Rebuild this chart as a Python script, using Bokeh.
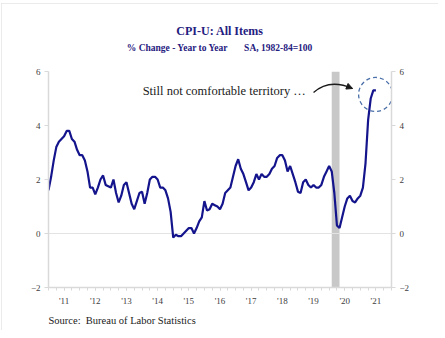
from bokeh.plotting import figure
from bokeh.models import (LinearAxis, FixedTicker, Label, BoxAnnotation, Span, Title,
                          Arrow, NormalHead, ColumnDataSource, Range1d)
from bokeh.embed import file_html
from bokeh.resources import INLINE

# ---- data: CPI-U, % change year to year (monthly, Jan 2011 .. Jul 2021) ----
start_year = 2011
cpi_2011 = [1.6, 2.1, 2.7, 3.2, 3.4, 3.5, 3.6, 3.8, 3.8, 3.5, 3.4, 3.1]
cpi_2012 = [2.9, 2.9, 2.7, 2.3, 1.7, 1.7, 1.45, 1.7, 2.0, 2.15, 1.8, 1.75]
cpi_2013 = [1.7, 2.0, 1.5, 1.15, 1.4, 1.8, 1.9, 1.5, 1.1, 0.9, 1.2, 1.5]
cpi_2014 = [1.55, 1.1, 1.5, 2.0, 2.1, 2.1, 2.0, 1.7, 1.7, 1.6, 1.3, 0.8]
cpi_2015 = [-0.15, -0.05, -0.1, -0.1, 0.0, 0.1, 0.2, 0.2, 0.0, 0.2, 0.45, 0.6]
cpi_2016 = [1.2, 0.85, 0.9, 1.1, 1.05, 1.0, 0.9, 1.1, 1.5, 1.6, 1.7, 2.1]
cpi_2017 = [2.5, 2.75, 2.4, 2.2, 1.9, 1.6, 1.7, 1.9, 2.2, 2.0, 2.2, 2.1]
cpi_2018 = [2.1, 2.2, 2.4, 2.5, 2.8, 2.9, 2.9, 2.7, 2.3, 2.5, 2.2, 1.9]
cpi_2019 = [1.55, 1.5, 1.9, 2.0, 1.8, 1.7, 1.8, 1.7, 1.7, 1.8, 2.1, 2.3]
cpi_2020 = [2.5, 2.3, 1.5, 0.3, 0.2, 0.6, 1.0, 1.3, 1.4, 1.2, 1.15, 1.3]
cpi_2021 = [1.4, 1.7, 2.6, 4.2, 5.0, 5.3, 5.3]

recession = (2020 + 1 / 12, 2020 + 4 / 12)   # Feb - Apr 2020
y_ticks = [-2, 0, 2, 4, 6]
year_labels = ["'11", "'12", "'13", "'14", "'15", "'16", "'17", "'18", "'19", "'20", "'21"]

title_text = "CPI-U: All Items"
subtitle_text = "% Change - Year to Year" + "\u00a0" * 7 + "SA, 1982-84=100"
note_text = "Still not comfortable territory \u2026"
source_text = "Source:\u00a0\u00a0Bureau of Labor Statistics"

cpi = (cpi_2011 + cpi_2012 + cpi_2013 + cpi_2014 + cpi_2015 + cpi_2016 +
       cpi_2017 + cpi_2018 + cpi_2019 + cpi_2020 + cpi_2021)
xs = [start_year + i / 12 for i in range(len(cpi))]
src = ColumnDataSource(dict(x=xs, y=cpi))

NAVY = "#14148c"
TITLE_C = "#1f2080"
AX_C = "#d9d9d9"
SERIF = "Liberation Serif"

p = figure(width=437, height=327, output_backend="svg", toolbar_location=None,
           x_range=Range1d(2011, 2022), y_range=Range1d(-2, 6),
           min_border_left=47, min_border_right=47, min_border_top=68,
           min_border_bottom=43, title=None)
p.margin = (3, 0, 0, 1)
p.styles = {"outline": "2px solid #e4e4e4", "outline-offset": "-2px"}
p.outline_line_color = None
p.background_fill_color = "white"
p.border_fill_color = "white"
p.xgrid.visible = False
p.ygrid.visible = False

# recession bar
p.add_layout(BoxAnnotation(left=recession[0], right=recession[1], bottom=-2, top=6,
                           fill_color="#c8c8c8", fill_alpha=1.0, line_color=None,
                           level="underlay"))
p.add_layout(Span(location=0, dimension="width", line_color="#e3e3e3", line_width=1,
                  level="underlay"))

p.line("x", "y", source=src, line_color=NAVY, line_width=2.2)

# axes
x_ax = p.xaxis[0]
x_ax.ticker = FixedTicker(ticks=[start_year + k + 0.5 for k in range(len(year_labels))],
                          minor_ticks=[start_year + q / 4 for q in range(0, 45)])
x_ax.major_label_overrides = {start_year + k + 0.5: lab for k, lab in enumerate(year_labels)}
x_ax.major_tick_out = 3
x_ax.major_tick_in = 0
x_ax.minor_tick_out = 3
x_ax.minor_tick_in = 0

y_ax = p.yaxis[0]
y_ax.ticker = FixedTicker(ticks=y_ticks)
r_ax = LinearAxis(ticker=FixedTicker(ticks=y_ticks))
p.add_layout(r_ax, "right")

for ax in (x_ax, y_ax, r_ax):
    ax.axis_line_color = AX_C
    ax.axis_line_width = 1.5
    ax.major_tick_line_color = AX_C
    ax.minor_tick_line_color = AX_C
    ax.major_label_text_font = SERIF
    ax.major_label_text_font_size = "9px"
    ax.major_label_text_color = "#404040"
    ax.major_label_standoff = 4
for ax in (y_ax, r_ax):
    ax.major_tick_out = 4
    ax.major_tick_in = 0
    ax.minor_tick_out = 0
    ax.minor_tick_in = 0
x_ax.major_label_standoff = 5

# titles above: a blank spacer next to the frame, then subtitle, then title
p.add_layout(Title(text="\u00a0", text_font=SERIF, text_font_size="1px",
                   text_color="white", standoff=14), "above")
p.add_layout(Title(text=subtitle_text, align="center", text_font=SERIF,
                   text_font_style="bold", text_font_size="9.5px", text_color=TITLE_C,
                   standoff=3), "above")
p.add_layout(Title(text=title_text, align="center", text_font=SERIF,
                   text_font_style="bold", text_font_size="12px", text_color=TITLE_C,
                   standoff=4), "above")
p.add_layout(Title(text=source_text, align="left", text_font=SERIF,
                   text_font_style="normal", text_font_size="10.5px", text_color="#1a1a1a",
                   standoff=8), "below")

# annotation inside the plot (data coordinates)
p.add_layout(Label(x=2014.02, y=5.26, text=note_text, text_font=SERIF,
                   text_font_size="12.5px", text_color="#1a1a1a",
                   text_align="left", text_baseline="middle"))

# curved arrow and dashed circle
arrow_curve = dict(x0=[2019.50], y0=[5.22], cx=[2020.0], cy=[5.75], x1=[2020.75], y1=[5.37])
p.quadratic(x0="x0", y0="y0", x1="x1", y1="y1", cx="cx", cy="cy",
            source=ColumnDataSource(arrow_curve), line_color="#1a1a1a", line_width=1.3)
p.add_layout(Arrow(end=NormalHead(size=6, fill_color="#1a1a1a", line_color="#1a1a1a"),
                   x_start=2020.60, y_start=5.44, x_end=2020.75, y_end=5.37,
                   line_color="#1a1a1a", line_width=1.3))
circle_pos = dict(x=[2021.49], y=[5.15])
p.scatter("x", "y", source=ColumnDataSource(circle_pos), size=34, marker="circle",
          fill_alpha=0, line_color="#4a6fa8", line_width=1.3, line_dash="4 3")

open("out.html", "w").write(file_html(p, INLINE))
